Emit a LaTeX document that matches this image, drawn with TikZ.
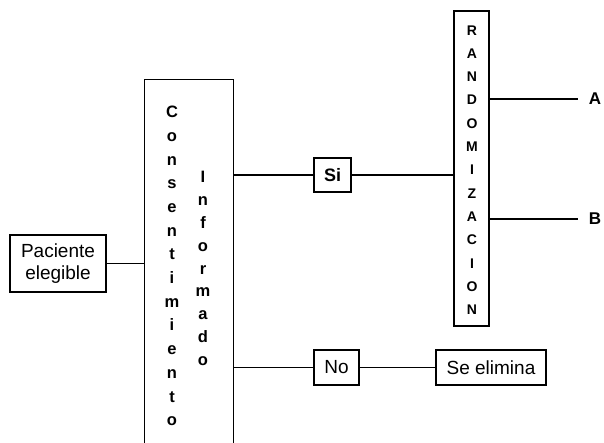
\documentclass[tikz,border=0pt]{standalone}
\usepackage{fontspec}
\setmainfont{Liberation Sans}
\begin{document}
\begin{tikzpicture}[x=1pt,y=-1pt,line width=1.4pt,
  box/.style={draw,rectangle,inner sep=0pt,font=\fontsize{19}{22}\selectfont,align=center},
  col/.style={inner sep=0pt,align=center},
  lab/.style={inner sep=0pt,font=\bfseries\fontsize{17}{17}\selectfont}]
\useasboundingbox (0,0) rectangle (604,443);
% boxes
\node[box,minimum width=96pt,minimum height=57pt] (pac) at (58,263.5) {Paciente\\elegible};
\node[draw=none,inner sep=0pt,minimum width=88pt,minimum height=363pt] (cons) at (189,261.5) {};
\draw (cons.south west) -- (cons.north west) -- (cons.north east) -- (cons.south east);
\node[col,font=\bfseries\fontsize{16.5}{23.7}\selectfont] (consw) at (172,266) {C\\o\\n\\s\\e\\n\\t\\i\\m\\i\\e\\n\\t\\o};
\node[col,font=\bfseries\fontsize{16.5}{22.9}\selectfont] (infw) at (203,268.5) {I\\n\\f\\o\\r\\m\\a\\d\\o};
\node[box,font=\bfseries\fontsize{18}{18}\selectfont,minimum width=37pt,minimum height=34pt] (si) at (332.5,175) {Si};
\node[box,minimum width=45pt,minimum height=35pt] (no) at (336.5,367.5) {No};
\node[box,minimum width=110pt,minimum height=35pt] (se) at (491,367.5) {Se elimina};
\node[box,minimum width=35pt,minimum height=315pt] (rand) at (471.5,168.5) {};
\node[col,font=\bfseries\fontsize{14}{23.3}\selectfont] (randw) at (472,170) {R\\A\\N\\D\\O\\M\\I\\Z\\A\\C\\I\\O\\N};
% labels A and B
\node[lab] (la) at (595,99) {A};
\node[lab] (lb) at (595,219) {B};
\coordinate (aend) at (578,99);
\coordinate (bend) at (578,219);
% connectors
\draw (pac.east) -- (pac.east -| cons.west);
\draw (si.west -| cons.east) -- (si.west);
\draw (si.east) -- (si.east -| rand.west);
\draw (no.west -| cons.east) -- (no.west);
\draw (no.east) -- (se.west);
\draw (aend -| rand.east) -- (aend);
\draw (bend -| rand.east) -- (bend);
\end{tikzpicture}
\end{document}
